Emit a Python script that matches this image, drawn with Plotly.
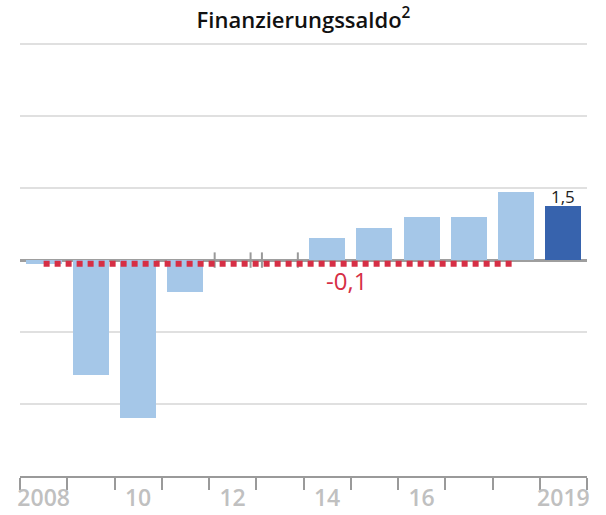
import plotly.graph_objects as go

years = [2008, 2009, 2010, 2011, 2012, 2013, 2014, 2015, 2016, 2017, 2018, 2019]
values = [-0.1, -3.2, -4.4, -0.9, 0.0, 0.0, 0.6, 0.9, 1.2, 1.2, 1.9, 1.5]
tick_years = [2008, 2010, 2012, 2014, 2016, 2019]
tick_labels = ["2008", "10", "12", "14", "16", "2019"]
avg_years = [2008, 2018]
avg_value = -0.1
title_text = "Finanzierungssaldo<sup>2</sup>"

LIGHT = "#a5c7e8"
DARK = "#3763ad"
RED = "#d62f45"
BAR_W = 0.76

colors = [DARK if y == years[-1] else LIGHT for y in years]

fig = go.Figure()
fig.add_trace(go.Bar(x=years, y=values, width=BAR_W, marker=dict(color=colors, line=dict(width=0)),
                     hoverinfo="skip"))

# zero-height bars shown as small edge ticks
zero_x = []
for y, v in zip(years, values):
    if v == 0:
        zero_x += [y - BAR_W / 2, y + BAR_W / 2]
fig.add_trace(go.Scatter(x=zero_x, y=[0] * len(zero_x), mode="markers",
                         marker=dict(symbol="line-ns", size=11, line=dict(color="#999999", width=2)),
                         hoverinfo="skip"))

fig.add_trace(go.Scatter(x=avg_years, y=[avg_value] * len(avg_years), mode="lines",
                         line=dict(color=RED, width=6, dash="6px,5px"), hoverinfo="skip"))

fig.add_annotation(x=2014.4, y=avg_value, text=f"{avg_value:.1f}".replace(".", ","),
                   showarrow=False, yanchor="top", yshift=2,
                   font=dict(family="Open Sans", size=24, color=RED))

fig.add_annotation(x=years[-1], y=values[-1], text=f"{values[-1]:.1f}".replace(".", ","),
                   showarrow=False, yanchor="bottom", yshift=-4,
                   font=dict(family="Open Sans", size=17, color="#222222"))

fig.update_layout(
    width=606, height=515,
    margin=dict(l=20, r=19, t=42, b=39, autoexpand=False),
    plot_bgcolor="white", paper_bgcolor="white",
    showlegend=False,
    bargap=0,
    title=dict(text=title_text, x=0.5, xref="paper", y=1 - 20 / 515, yref="container",
               yanchor="middle", xanchor="center",
               font=dict(family="Open Sans", size=22, color="#111111", weight=600)),
    xaxis=dict(range=[years[0] - 0.5, years[-1] + 0.5], tickvals=tick_years, ticktext=tick_labels,
               ticks="", showgrid=False, zeroline=False, automargin=False,
               showline=True, linecolor="#9a9a9a", linewidth=2,
               tickfont=dict(family="Open Sans", size=23, color="#c0c0c0", weight=600),
               minor=dict(tick0=years[0] - 0.5, dtick=1, ticks="outside", ticklen=12,
                          tickcolor="#9a9a9a", tickwidth=2, showgrid=False)),
    yaxis=dict(range=[-6, 6.06], dtick=2, showticklabels=False, ticks="", automargin=False,
               showgrid=True, gridcolor="#e0e0e0", gridwidth=2,
               zeroline=True, zerolinecolor="#9e9e9e", zerolinewidth=2.5),
)

fig.write_html("out.html", config={"displayModeBar": False},
               post_script="document.body.style.margin='0';")
